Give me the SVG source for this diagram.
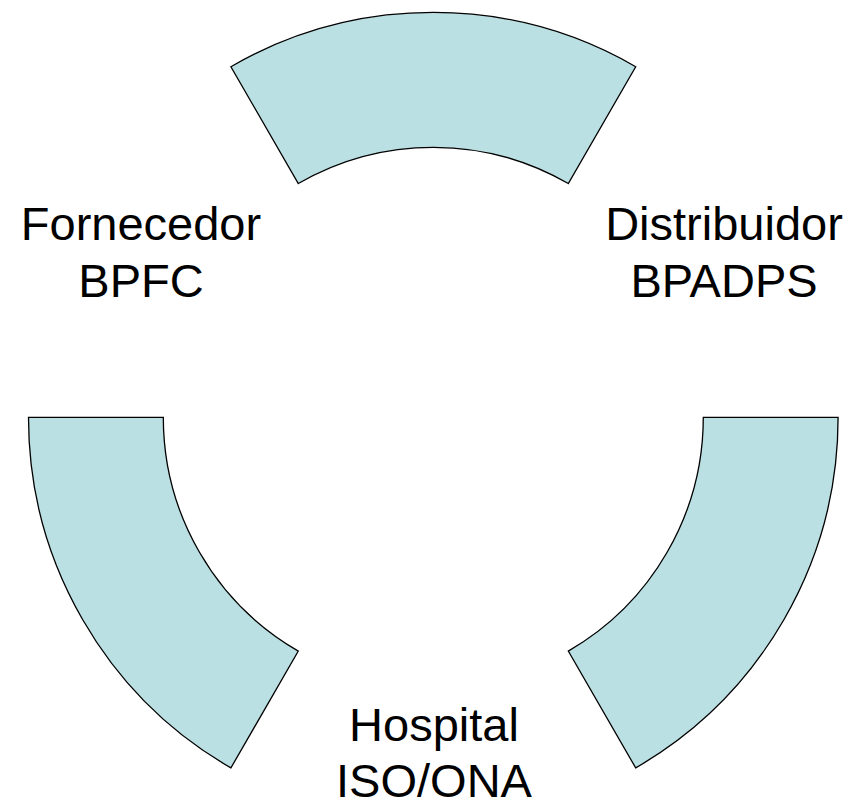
<svg xmlns="http://www.w3.org/2000/svg" width="853" height="807" viewBox="0 0 853 807">
  <style>
    .seg { fill: #BBE0E3; stroke: #000000; stroke-width: 1.3; stroke-linejoin: miter; }
    .lbl { font-family: "Liberation Sans", Arial, sans-serif; font-size: 47px; fill: #000000; text-anchor: middle; }
  </style>
  <rect width="853" height="807" fill="#FFFFFF"/>
  <!-- ring segments: centre (433.3, 417.3), outer r 404.8, inner r 270 -->
  <g id="segment-top">
    <path class="seg" d="M 230.9 66.7 A 404.8 404.8 0 0 1 635.7 66.7 L 568.3 183.5 A 270 270 0 0 0 298.3 183.5 Z"/>
  </g>
  <g id="segment-left">
    <path class="seg" d="M 28.5 417.3 L 163.3 417.3 A 270 270 0 0 0 298.3 651.1 L 230.9 767.9 A 404.8 404.8 0 0 1 28.5 417.3 Z"/>
  </g>
  <g id="segment-right">
    <path class="seg" d="M 703.3 417.3 L 838.1 417.3 A 404.8 404.8 0 0 1 635.7 767.9 L 568.3 651.1 A 270 270 0 0 0 703.3 417.3 Z"/>
  </g>
  <g id="label-fornecedor">
    <text class="lbl" x="141" y="239.5">Fornecedor</text>
    <text class="lbl" x="141" y="296.5">BPFC</text>
  </g>
  <g id="label-distribuidor">
    <text class="lbl" x="724" y="239.5">Distribuidor</text>
    <text class="lbl" x="724" y="296.5">BPADPS</text>
  </g>
  <g id="label-hospital">
    <text class="lbl" x="434" y="741">Hospital</text>
    <text class="lbl" x="434" y="797">ISO/ONA</text>
  </g>
</svg>
